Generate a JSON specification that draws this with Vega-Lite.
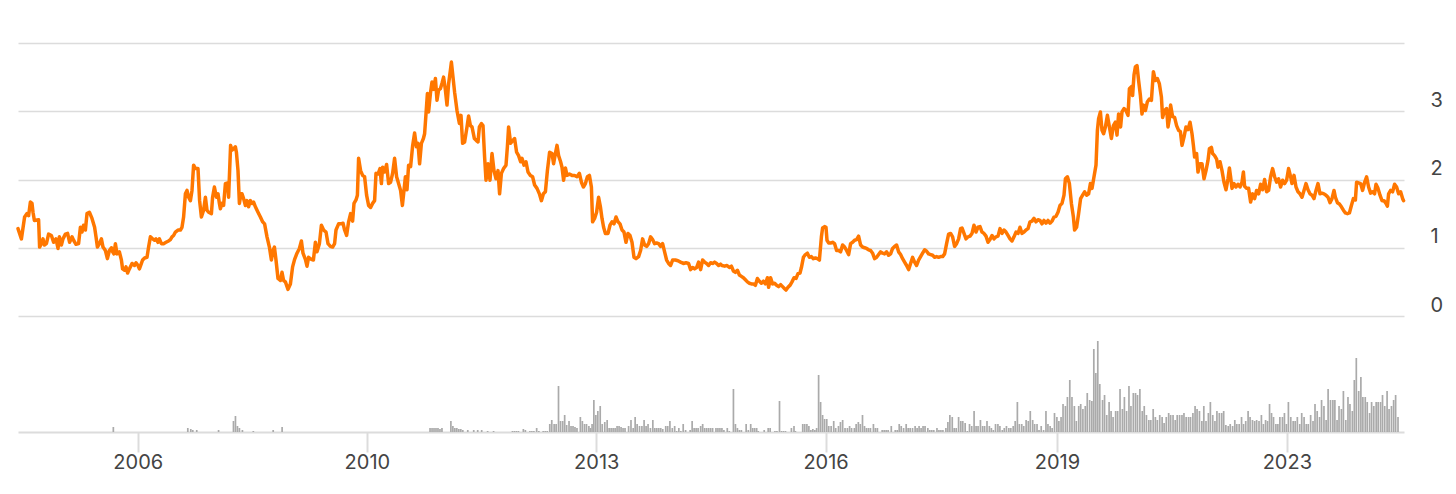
{
"$schema": "https://vega.github.io/schema/vega-lite/v6.json",
"padding": {"left": 16, "top": 43, "right": 0, "bottom": 0},
"config": {"view": {"stroke": null}, "font": "Inter"},
"spacing": 16,
"datasets": {
"price": [
{"n":0,"p":1.28},{"n":1.7,"p":1.13},{"n":3.3,"p":1.45},{"n":4.5,"p":1.5},{"n":5.3,"p":1.47},{"n":6.2,"p":1.67},{"n":7,"p":1.65},{"n":7.5,"p":1.52},{"n":8.2,"p":1.4},{"n":10.3,"p":1.41},{"n":10.8,"p":1.01},{"n":11.7,"p":1.06},{"n":12.5,"p":1.13},{"n":13.2,"p":1.04},{"n":14.2,"p":1.06},{"n":15.3,"p":1.2},{"n":16.7,"p":1.18},{"n":17.8,"p":1.08},{"n":19,"p":1.13},{"n":20,"p":0.99},{"n":20.7,"p":1.16},{"n":21.7,"p":1.04},{"n":22.5,"p":1.13},{"n":23.7,"p":1.2},{"n":24.8,"p":1.21},{"n":25.8,"p":1.08},{"n":27,"p":1.16},{"n":27.8,"p":1.11},{"n":29,"p":1.05},{"n":30.3,"p":1.06},{"n":31.2,"p":1.3},{"n":32,"p":1.23},{"n":32.8,"p":1.33},{"n":33.7,"p":1.26},{"n":34.5,"p":1.5},{"n":35.7,"p":1.52},{"n":37,"p":1.43},{"n":38.3,"p":1.3},{"n":39,"p":1.16},{"n":39.7,"p":1.01},{"n":40.7,"p":1.06},{"n":41.7,"p":1.13},{"n":42.5,"p":1.01},{"n":43.7,"p":0.96},{"n":44.7,"p":0.84},{"n":45.7,"p":0.96},{"n":46.7,"p":1.0},{"n":47.3,"p":0.94},{"n":48,"p":0.91},{"n":48.7,"p":1.06},{"n":49.5,"p":0.91},{"n":50.7,"p":0.94},{"n":51.7,"p":0.82},{"n":52.3,"p":0.69},{"n":53.3,"p":0.67},{"n":54,"p":0.72},{"n":54.8,"p":0.63},{"n":55.7,"p":0.69},{"n":57,"p":0.77},{"n":58.2,"p":0.74},{"n":59,"p":0.78},{"n":60,"p":0.74},{"n":60.7,"p":0.69},{"n":61.7,"p":0.77},{"n":62.3,"p":0.82},{"n":63.3,"p":0.85},{"n":64.5,"p":0.86},{"n":65.3,"p":1.01},{"n":66.2,"p":1.16},{"n":67.3,"p":1.13},{"n":68.3,"p":1.11},{"n":69,"p":1.13},{"n":70,"p":1.08},{"n":70.7,"p":1.13},{"n":71.7,"p":1.06},{"n":72.8,"p":1.06},{"n":74,"p":1.08},{"n":75.3,"p":1.1},{"n":76.2,"p":1.12},{"n":77,"p":1.16},{"n":77.8,"p":1.18},{"n":78.7,"p":1.23},{"n":80,"p":1.26},{"n":81.2,"p":1.26},{"n":82,"p":1.3},{"n":82.8,"p":1.45},{"n":83.7,"p":1.79},{"n":84.5,"p":1.84},{"n":85.3,"p":1.74},{"n":86.2,"p":1.69},{"n":87,"p":1.84},{"n":87.8,"p":2.21},{"n":88.7,"p":2.16},{"n":90,"p":2.16},{"n":90.8,"p":1.69},{"n":91.7,"p":1.45},{"n":92.8,"p":1.55},{"n":93.7,"p":1.74},{"n":94.5,"p":1.55},{"n":95.3,"p":1.52},{"n":96.7,"p":1.5},{"n":97.3,"p":1.74},{"n":98.2,"p":1.89},{"n":99.2,"p":1.74},{"n":100,"p":1.79},{"n":100.7,"p":1.65},{"n":101.2,"p":1.57},{"n":102,"p":1.65},{"n":102.8,"p":1.62},{"n":103.7,"p":1.94},{"n":104.8,"p":1.95},{"n":105.3,"p":1.74},{"n":106.3,"p":2.5},{"n":107,"p":2.43},{"n":107.8,"p":2.45},{"n":108.7,"p":2.48},{"n":109.2,"p":2.4},{"n":110,"p":2.13},{"n":110.7,"p":1.65},{"n":111.5,"p":1.79},
{"n":112,"p":1.79},{"n":112.8,"p":1.72},{"n":113.7,"p":1.62},{"n":114.5,"p":1.69},{"n":115.3,"p":1.6},{"n":116.2,"p":1.69},{"n":117,"p":1.65},{"n":117.8,"p":1.67},{"n":118.7,"p":1.6},{"n":120,"p":1.52},{"n":121.2,"p":1.45},{"n":122.3,"p":1.38},{"n":123.3,"p":1.35},{"n":124.5,"p":1.16},{"n":125.7,"p":1.01},{"n":126.7,"p":0.82},{"n":127.5,"p":0.96},{"n":128.2,"p":1.01},{"n":129,"p":0.82},{"n":130,"p":0.55},{"n":131.2,"p":0.52},{"n":132,"p":0.64},{"n":132.8,"p":0.52},{"n":133.7,"p":0.5},{"n":135,"p":0.39},{"n":136.2,"p":0.47},{"n":137.3,"p":0.72},{"n":138.3,"p":0.83},{"n":139.5,"p":0.92},{"n":140.7,"p":0.99},{"n":141.7,"p":1.1},{"n":142.5,"p":0.92},{"n":143.7,"p":0.83},{"n":144.5,"p":0.73},{"n":145.3,"p":0.86},{"n":146.7,"p":0.83},{"n":147.7,"p":0.82},{"n":148.7,"p":1.08},{"n":149.5,"p":0.94},{"n":150.7,"p":1.06},{"n":151.7,"p":1.33},{"n":152.8,"p":1.26},{"n":154,"p":1.23},{"n":155,"p":1.06},{"n":156.2,"p":1.02},{"n":157.3,"p":1.01},{"n":158.3,"p":1.06},{"n":159,"p":1.26},{"n":160.3,"p":1.35},{"n":161.5,"p":1.35},{"n":162.5,"p":1.36},{"n":163.3,"p":1.26},{"n":164.3,"p":1.18},{"n":165.3,"p":1.38},{"n":166.3,"p":1.5},{"n":167.3,"p":1.39},{"n":168,"p":1.65},{"n":169,"p":1.7},{"n":169.7,"p":1.77},{"n":170.3,"p":2.31},{"n":171.3,"p":2.13},{"n":172.3,"p":2.06},{"n":173.3,"p":2.04},{"n":174.3,"p":1.77},{"n":175.3,"p":1.62},{"n":176.3,"p":1.59},{"n":177.3,"p":1.65},{"n":178.3,"p":1.69},{"n":179,"p":2.09},{"n":180,"p":2.08},{"n":181,"p":2.16},{"n":181.7,"p":1.94},{"n":182.3,"p":2.18},{"n":183.3,"p":2.11},{"n":184.3,"p":2.22},{"n":185.3,"p":1.94},{"n":186.3,"p":1.96},{"n":187.3,"p":2.09},{"n":188.3,"p":2.31},{"n":189.3,"p":2.04},{"n":190.3,"p":1.94},{"n":191.3,"p":1.84},{"n":192.2,"p":1.62},{"n":193,"p":1.84},{"n":193.7,"p":2.04},{"n":194.5,"p":1.85},{"n":195.3,"p":2.21},{"n":196.3,"p":2.19},{"n":197.3,"p":2.49},{"n":198.3,"p":2.68},{"n":199.2,"p":2.48},{"n":200,"p":2.53},{"n":200.8,"p":2.23},{"n":201.7,"p":2.53},{"n":202.7,"p":2.6},{"n":203.3,"p":2.67},{"n":204,"p":2.96},{"n":204.7,"p":3.26},{"n":205.3,"p":2.99},{"n":206.2,"p":3.26},{"n":207,"p":3.43},{"n":207.8,"p":3.32},{"n":208.7,"p":3.48},{"n":209.5,"p":3.16},{"n":210.3,"p":3.31},{"n":211.2,"p":3.33},{"n":212,"p":3.41},{"n":212.8,"p":3.5},{"n":213.7,"p":3.31},{"n":214.5,"p":3.09},{"n":215.3,"p":3.4},{"n":216.2,"p":3.6},{"n":216.7,"p":3.72},{"n":217.5,"p":3.5},{"n":218.3,"p":3.28},{"n":219.5,"p":3.01},{"n":220.7,"p":2.82},{"n":221.5,"p":2.94},{"n":222.3,"p":2.53},{"n":223.3,"p":2.55},{"n":224.5,"p":2.77},{"n":225.3,"p":2.93},{"n":226.2,"p":2.79},{"n":227,"p":2.77},{"n":228.2,"p":2.6},{"n":229.2,"p":2.57},{"n":230,"p":2.55},{"n":230.7,"p":2.77},{"n":231.7,"p":2.82},
{"n":232.5,"p":2.79},{"n":233.3,"p":2.33},{"n":234,"p":1.99},{"n":235,"p":2.23},{"n":236,"p":1.99},{"n":237,"p":2.38},{"n":238,"p":2.13},{"n":239,"p":2.01},{"n":240,"p":2.13},{"n":240.8,"p":1.79},{"n":241.7,"p":2.09},{"n":242.8,"p":2.16},{"n":244,"p":2.21},{"n":244.7,"p":2.48},{"n":245.3,"p":2.77},{"n":246.3,"p":2.53},{"n":247.3,"p":2.57},{"n":248.3,"p":2.6},{"n":249.3,"p":2.4},{"n":250.3,"p":2.35},{"n":251.3,"p":2.26},{"n":252,"p":2.31},{"n":253,"p":2.21},{"n":254,"p":2.26},{"n":255,"p":2.11},{"n":256.2,"p":2.06},{"n":257.3,"p":2.04},{"n":258.3,"p":1.92},{"n":259.5,"p":1.87},{"n":260.7,"p":1.79},{"n":261.7,"p":1.69},{"n":262.7,"p":1.79},{"n":263.7,"p":1.82},{"n":264.7,"p":2.13},{"n":265.8,"p":2.4},{"n":267,"p":2.38},{"n":267.8,"p":2.23},{"n":268.7,"p":2.38},{"n":269.5,"p":2.5},{"n":270.3,"p":2.35},{"n":271.3,"p":2.26},{"n":272,"p":2.18},{"n":272.8,"p":1.99},{"n":273.7,"p":2.17},{"n":274.5,"p":2.06},{"n":275.7,"p":2.08},{"n":277,"p":2.06},{"n":278.3,"p":2.06},{"n":279.5,"p":2.04},{"n":280.7,"p":2.09},{"n":281.7,"p":1.96},{"n":282.7,"p":1.89},{"n":283.7,"p":1.94},{"n":284.7,"p":2.04},{"n":285.7,"p":2.06},{"n":286.7,"p":1.89},{"n":287.3,"p":1.38},{"n":288.3,"p":1.43},{"n":289.3,"p":1.52},{"n":290.3,"p":1.74},{"n":291.2,"p":1.6},{"n":292,"p":1.43},{"n":292.8,"p":1.3},{"n":293.7,"p":1.21},{"n":295,"p":1.21},{"n":296,"p":1.33},{"n":297,"p":1.38},{"n":298,"p":1.35},{"n":299,"p":1.45},{"n":300,"p":1.38},{"n":301,"p":1.35},{"n":302,"p":1.26},{"n":303,"p":1.23},{"n":304,"p":1.08},{"n":305,"p":1.21},{"n":306,"p":1.18},{"n":307,"p":1.08},{"n":308,"p":0.86},{"n":309,"p":0.84},{"n":310.3,"p":0.87},{"n":311.3,"p":0.96},{"n":312.3,"p":1.13},{"n":313.3,"p":1.04},{"n":314.3,"p":1.02},{"n":315.3,"p":1.06},{"n":316.3,"p":1.16},{"n":317.3,"p":1.12},{"n":318.3,"p":1.06},{"n":319.3,"p":1.07},{"n":320.3,"p":1.06},{"n":321.3,"p":1.02},{"n":322.3,"p":1.06},{"n":323.3,"p":0.94},{"n":324.3,"p":0.82},{"n":325.3,"p":0.77},{"n":326.3,"p":0.74},{"n":327.3,"p":0.82},{"n":328.7,"p":0.82},{"n":330,"p":0.81},{"n":331.3,"p":0.79},{"n":332.7,"p":0.77},{"n":334,"p":0.78},{"n":335.3,"p":0.77},{"n":336.3,"p":0.68},{"n":337.3,"p":0.71},{"n":338.3,"p":0.69},{"n":339.3,"p":0.71},{"n":340.3,"p":0.79},{"n":341.3,"p":0.68},{"n":342.3,"p":0.82},{"n":343.3,"p":0.79},{"n":344.3,"p":0.77},{"n":345.3,"p":0.74},{"n":346.3,"p":0.78},{"n":347.3,"p":0.77},{"n":348.3,"p":0.79},{"n":349.3,"p":0.77},{"n":350.3,"p":0.74},{"n":351.3,"p":0.76},
{"n":352,"p":0.74},{"n":353.3,"p":0.73},{"n":354.5,"p":0.74},{"n":355.7,"p":0.71},{"n":356.7,"p":0.73},{"n":357.7,"p":0.66},{"n":358.7,"p":0.64},{"n":359.7,"p":0.67},{"n":360.7,"p":0.6},{"n":361.7,"p":0.58},{"n":362.7,"p":0.56},{"n":363.7,"p":0.53},{"n":364.7,"p":0.5},{"n":365.7,"p":0.48},{"n":366.7,"p":0.47},{"n":367.7,"p":0.47},{"n":368.7,"p":0.45},{"n":369.7,"p":0.55},{"n":370.7,"p":0.51},{"n":371.7,"p":0.48},{"n":372.7,"p":0.51},{"n":373.7,"p":0.47},{"n":374.7,"p":0.56},{"n":375.3,"p":0.42},{"n":376.3,"p":0.56},{"n":377.3,"p":0.47},{"n":378.3,"p":0.48},{"n":379.3,"p":0.45},{"n":380.3,"p":0.43},{"n":381.3,"p":0.46},{"n":382.3,"p":0.43},{"n":383.3,"p":0.4},{"n":384,"p":0.38},{"n":385,"p":0.42},{"n":386,"p":0.45},{"n":387,"p":0.5},{"n":388,"p":0.56},{"n":389,"p":0.55},{"n":390,"p":0.62},{"n":391,"p":0.63},{"n":391.7,"p":0.71},{"n":392.7,"p":0.86},{"n":393.7,"p":0.9},{"n":394.7,"p":0.92},{"n":395.7,"p":0.86},{"n":396.7,"p":0.87},{"n":397.7,"p":0.84},{"n":398.7,"p":0.85},{"n":399.7,"p":0.84},{"n":400.7,"p":0.82},{"n":401.7,"p":1.16},{"n":402.3,"p":1.29},{"n":403.3,"p":1.31},{"n":404,"p":1.3},{"n":404.5,"p":1.11},{"n":405.3,"p":1.07},{"n":406.3,"p":1.07},{"n":407.3,"p":1.08},{"n":408.3,"p":1.06},{"n":409.3,"p":0.96},{"n":410.3,"p":0.96},{"n":411.3,"p":0.94},{"n":412.3,"p":1.04},{"n":413.3,"p":1.01},{"n":414.3,"p":0.96},{"n":415.3,"p":0.9},{"n":416.3,"p":1.06},{"n":417.3,"p":1.08},{"n":418.3,"p":1.11},{"n":419.3,"p":1.12},{"n":420.3,"p":1.17},{"n":421.3,"p":1.04},{"n":422.3,"p":1.01},{"n":423.3,"p":1.0},{"n":424.3,"p":0.99},{"n":425.3,"p":0.97},{"n":426.3,"p":0.96},{"n":427.3,"p":0.92},{"n":428.3,"p":0.84},{"n":429.3,"p":0.86},{"n":430.3,"p":0.9},{"n":431.3,"p":0.94},{"n":432.3,"p":0.92},{"n":433.3,"p":0.91},{"n":434.3,"p":0.94},{"n":435.3,"p":0.89},{"n":436.3,"p":0.91},{"n":437.3,"p":0.99},{"n":438.3,"p":1.02},{"n":439.3,"p":1.04},{"n":440.3,"p":0.94},{"n":441.3,"p":0.9},{"n":442.3,"p":0.84},{"n":443.3,"p":0.79},{"n":444.3,"p":0.74},{"n":445.3,"p":0.68},{"n":446.3,"p":0.77},{"n":447.3,"p":0.86},{"n":448.3,"p":0.79},{"n":449.3,"p":0.74},{"n":450.3,"p":0.82},{"n":451.3,"p":0.87},{"n":452.3,"p":0.92},{"n":453.3,"p":0.97},{"n":454.3,"p":0.95},{"n":455.3,"p":0.91},{"n":456.3,"p":0.9},{"n":457.3,"p":0.89},{"n":458.3,"p":0.86},{"n":459.3,"p":0.87},{"n":460.3,"p":0.86},{"n":461.3,"p":0.87},{"n":462.3,"p":0.87},{"n":463.3,"p":0.91},{"n":464.3,"p":1.06},{"n":465.3,"p":1.2},{"n":466.3,"p":1.21},{"n":467.3,"p":1.16},{"n":468.3,"p":1.02},{"n":469.3,"p":1.06},{"n":470.3,"p":1.13},{"n":471.3,"p":1.28},
{"n":472,"p":1.29},{"n":473,"p":1.21},{"n":474,"p":1.13},{"n":475,"p":1.16},{"n":476,"p":1.17},{"n":477,"p":1.21},{"n":478,"p":1.33},{"n":479,"p":1.23},{"n":480,"p":1.3},{"n":481,"p":1.31},{"n":482,"p":1.23},{"n":483,"p":1.21},{"n":484,"p":1.17},{"n":485,"p":1.08},{"n":486,"p":1.12},{"n":487,"p":1.18},{"n":488,"p":1.13},{"n":489,"p":1.16},{"n":490,"p":1.17},{"n":491,"p":1.28},{"n":492,"p":1.21},{"n":493,"p":1.26},{"n":494,"p":1.23},{"n":495,"p":1.18},{"n":496,"p":1.13},{"n":497,"p":1.1},{"n":498,"p":1.16},{"n":499,"p":1.23},{"n":500,"p":1.21},{"n":501,"p":1.3},{"n":502,"p":1.21},{"n":503,"p":1.23},{"n":504,"p":1.26},{"n":505,"p":1.28},{"n":506,"p":1.38},{"n":507,"p":1.39},{"n":508,"p":1.43},{"n":509,"p":1.38},{"n":510,"p":1.41},{"n":511,"p":1.4},{"n":512,"p":1.35},{"n":513,"p":1.4},{"n":514,"p":1.36},{"n":515,"p":1.4},{"n":516,"p":1.36},{"n":517,"p":1.39},{"n":518,"p":1.45},{"n":519,"p":1.46},{"n":520,"p":1.52},{"n":521,"p":1.62},{"n":522,"p":1.65},{"n":523,"p":1.77},{"n":523.7,"p":2.01},{"n":524.7,"p":2.04},{"n":525.7,"p":1.94},{"n":526.7,"p":1.65},{"n":527.7,"p":1.45},{"n":528.3,"p":1.26},{"n":529.3,"p":1.3},{"n":530.3,"p":1.5},{"n":531.3,"p":1.72},{"n":532.3,"p":1.77},{"n":533.3,"p":1.82},{"n":534.3,"p":1.77},{"n":535.3,"p":1.79},{"n":536.2,"p":1.94},{"n":537,"p":1.87},{"n":538,"p":2.04},{"n":539,"p":2.21},{"n":539.7,"p":2.72},{"n":540.3,"p":2.89},{"n":541.2,"p":2.99},{"n":542,"p":2.72},{"n":542.8,"p":2.67},{"n":543.7,"p":2.77},{"n":544.7,"p":2.94},{"n":545.7,"p":2.77},{"n":546.7,"p":2.6},{"n":547.7,"p":2.79},{"n":548.7,"p":2.84},{"n":549.5,"p":2.65},{"n":550.3,"p":2.96},{"n":551.3,"p":2.77},{"n":552,"p":2.99},{"n":553,"p":3.04},{"n":554,"p":3.01},{"n":555,"p":2.94},{"n":555.7,"p":3.33},{"n":556.7,"p":3.36},{"n":557.3,"p":3.23},{"n":558,"p":3.53},{"n":558.7,"p":3.65},{"n":559.5,"p":3.67},{"n":560.3,"p":3.45},{"n":561.2,"p":3.23},{"n":562,"p":2.96},{"n":562.8,"p":3.09},{"n":563.7,"p":3.01},{"n":564.7,"p":3.14},{"n":565.7,"p":3.18},{"n":566.7,"p":3.16},{"n":567.7,"p":3.58},{"n":568.7,"p":3.45},{"n":569.7,"p":3.48},{"n":570.7,"p":3.4},{"n":571.7,"p":3.21},{"n":572.3,"p":2.91},{"n":573.3,"p":3.01},{"n":574.3,"p":3.04},{"n":575,"p":2.77},{"n":575.7,"p":2.89},{"n":576.3,"p":3.09},{"n":577.3,"p":2.92},{"n":578.3,"p":2.91},{"n":579.3,"p":2.79},{"n":580.3,"p":2.72},{"n":581.2,"p":2.7},{"n":582,"p":2.5},{"n":583,"p":2.62},{"n":584,"p":2.77},{"n":585,"p":2.73},{"n":586,"p":2.84},{"n":587,"p":2.67},{"n":587.7,"p":2.5},{"n":588.3,"p":2.33},{"n":589.3,"p":2.38},{"n":590,"p":2.11},{"n":591,"p":2.23},
{"n":592,"p":2.23},{"n":593,"p":2.01},{"n":594,"p":2.13},{"n":595,"p":2.28},{"n":595.7,"p":2.45},{"n":596.7,"p":2.47},{"n":597.3,"p":2.38},{"n":598.3,"p":2.35},{"n":599.3,"p":2.3},{"n":600,"p":2.18},{"n":601,"p":2.26},{"n":602,"p":2.13},{"n":603,"p":1.96},{"n":604,"p":1.85},{"n":605,"p":2.01},{"n":605.7,"p":2.17},{"n":606.3,"p":2.04},{"n":607,"p":1.87},{"n":608,"p":1.94},{"n":609,"p":1.89},{"n":610,"p":1.93},{"n":611,"p":1.89},{"n":612,"p":1.96},{"n":612.7,"p":2.11},{"n":613.3,"p":1.9},{"n":614.3,"p":1.87},{"n":615.3,"p":1.87},{"n":616.3,"p":1.67},{"n":617.3,"p":1.79},{"n":618.3,"p":1.72},{"n":619.3,"p":1.84},{"n":620.3,"p":1.79},{"n":621.3,"p":1.93},{"n":622.3,"p":1.85},{"n":623.3,"p":2.0},{"n":624.3,"p":1.82},{"n":625.3,"p":1.84},{"n":626.3,"p":2.04},{"n":627.3,"p":2.16},{"n":628.3,"p":2.04},{"n":629.3,"p":1.96},{"n":630.3,"p":2.01},{"n":631.3,"p":1.89},{"n":632.3,"p":1.99},{"n":633.3,"p":1.94},{"n":634.3,"p":1.99},{"n":635.3,"p":2.16},{"n":636.3,"p":2.04},{"n":637,"p":1.94},{"n":638,"p":2.06},{"n":639,"p":1.89},{"n":640,"p":1.82},{"n":641,"p":1.79},{"n":642,"p":1.74},{"n":643,"p":1.84},{"n":644,"p":1.94},{"n":645,"p":1.85},{"n":646,"p":1.79},{"n":647,"p":1.77},{"n":648,"p":1.72},{"n":649,"p":1.84},{"n":650,"p":1.94},{"n":651,"p":1.79},{"n":652,"p":1.8},{"n":653,"p":1.79},{"n":654,"p":1.77},{"n":655,"p":1.74},{"n":656,"p":1.66},{"n":657,"p":1.72},{"n":658,"p":1.84},{"n":658.7,"p":1.74},{"n":659.7,"p":1.66},{"n":660.7,"p":1.64},{"n":661.7,"p":1.6},{"n":662.7,"p":1.55},{"n":663.7,"p":1.51},{"n":664.7,"p":1.5},{"n":665.7,"p":1.51},{"n":666.7,"p":1.62},{"n":667.7,"p":1.72},{"n":668.7,"p":1.7},{"n":669.3,"p":1.96},{"n":670.3,"p":1.95},{"n":671.3,"p":1.94},{"n":672.3,"p":1.84},{"n":673.3,"p":1.96},{"n":674.3,"p":2.04},{"n":675.3,"p":1.89},{"n":676.3,"p":1.8},{"n":677.3,"p":1.82},{"n":678.3,"p":1.79},{"n":679,"p":1.93},{"n":680,"p":1.87},{"n":681,"p":1.77},{"n":682,"p":1.69},{"n":683,"p":1.69},{"n":684,"p":1.65},{"n":684.7,"p":1.61},{"n":685.3,"p":1.79},{"n":686.3,"p":1.84},{"n":687.3,"p":1.82},{"n":688.3,"p":1.93},{"n":689.3,"p":1.89},{"n":690.3,"p":1.79},{"n":691.3,"p":1.82},{"n":692.3,"p":1.72},{"n":692.8,"p":1.69}
],
"vol": [
{"n":45.5,"v":5},{"n":83,"v":4},{"n":84.5,"v":3},{"n":85.5,"v":2},{"n":87.5,"v":2},{"n":98.5,"v":2},{"n":106,"v":11},{"n":107,"v":16},{"n":108,"v":6},{"n":109,"v":4},{"n":110.5,"v":2},{"n":116,"v":1},{"n":126,"v":2},{"n":130.5,"v":5},{"n":205,"v":4},{"n":206,"v":4},{"n":207,"v":4},{"n":208,"v":4},{"n":209,"v":4},{"n":210,"v":3},{"n":211,"v":4},{"n":215.5,"v":11},{"n":216.5,"v":6},{"n":217.5,"v":4},{"n":218.5,"v":4},{"n":219.5,"v":3},{"n":220.5,"v":3},{"n":221.5,"v":2},{"n":224,"v":2},{"n":227,"v":2},{"n":229,"v":2},{"n":231,"v":2},{"n":234,"v":1},{"n":237,"v":1},
{"n":246.5,"v":1},{"n":247.5,"v":1},{"n":248.5,"v":1},{"n":249.5,"v":1},{"n":252,"v":3},{"n":253,"v":2},{"n":255.3,"v":1},{"n":256.3,"v":1},{"n":257.3,"v":1},{"n":258.7,"v":4},{"n":259.8,"v":1},{"n":262,"v":1},{"n":263,"v":1},{"n":264,"v":1},{"n":265.3,"v":8},{"n":266.3,"v":12},{"n":267.5,"v":8},{"n":268.5,"v":8},{"n":269.7,"v":46},{"n":270.7,"v":11},{"n":271.8,"v":11},{"n":272.8,"v":17},{"n":273.8,"v":7},{"n":275,"v":11},{"n":276,"v":6},{"n":277,"v":6},{"n":278,"v":5},{"n":279,"v":4},{"n":280.7,"v":15},{"n":281.7,"v":11},{"n":282.8,"v":8},{"n":283.8,"v":8},{"n":285,"v":6},{"n":285.8,"v":4},{"n":286.6,"v":8},{"n":287.5,"v":32},{"n":288.5,"v":17},{"n":289.5,"v":21},{"n":290.7,"v":26},{"n":291.7,"v":8},{"n":293,"v":10},{"n":294.2,"v":12},{"n":295.2,"v":4},{"n":296.2,"v":4},{"n":297.2,"v":4},{"n":298.2,"v":4},{"n":299.2,"v":6},{"n":300.2,"v":6},{"n":301.2,"v":5},{"n":302.2,"v":4},{"n":303.2,"v":4},{"n":305,"v":6},{"n":306.2,"v":12},{"n":307.3,"v":4},{"n":308.3,"v":15},{"n":309.3,"v":8},{"n":310.5,"v":6},{"n":311.7,"v":6},{"n":312.8,"v":12},{"n":313.8,"v":6},{"n":314.8,"v":8},{"n":316,"v":4},{"n":317.2,"v":12},{"n":318.2,"v":4},{"n":319.2,"v":4},{"n":320.2,"v":4},{"n":321.2,"v":4},{"n":322.2,"v":3},{"n":323.7,"v":6},{"n":324.7,"v":6},{"n":325.8,"v":11},{"n":327,"v":4},{"n":328.2,"v":6},{"n":329.2,"v":1},{"n":330.3,"v":4},{"n":331.3,"v":1},{"n":332.5,"v":8},{"n":333.7,"v":2},{"n":336,"v":2},{"n":337,"v":11},{"n":338,"v":4},{"n":339,"v":4},{"n":340,"v":4},{"n":341.3,"v":6},{"n":342.3,"v":8},{"n":343.3,"v":4},{"n":344.3,"v":4},{"n":345.3,"v":4},{"n":346.3,"v":4},{"n":347.3,"v":4},{"n":349,"v":4},{"n":350,"v":4},{"n":351,"v":4},{"n":352,"v":4},{"n":353,"v":2},{"n":354.7,"v":4},{"n":355.7,"v":1},{"n":357.8,"v":43},{"n":358.8,"v":8},{"n":359.8,"v":4},{"n":360.8,"v":2},{"n":361.8,"v":2},{"n":364.2,"v":8},{"n":365.3,"v":2},{"n":366.5,"v":8},{"n":367.5,"v":4},{"n":368.5,"v":4},{"n":369.5,"v":4},{"n":370.3,"v":1},{"n":373.3,"v":2},{"n":375.3,"v":4},{"n":376.3,"v":4},{"n":378.7,"v":1},{"n":379.7,"v":1},{"n":381,"v":31},{"n":382,"v":1},{"n":383,"v":1},{"n":384,"v":1},{"n":387,"v":4},{"n":388.3,"v":6},
{"n":389,"v":1},{"n":392.7,"v":8},{"n":393.7,"v":8},{"n":394.8,"v":8},{"n":395.8,"v":6},{"n":396.8,"v":2},{"n":397.8,"v":3},{"n":398.8,"v":2},{"n":399.7,"v":4},{"n":400.7,"v":57},{"n":401.7,"v":30},{"n":402.7,"v":17},{"n":403.7,"v":13},{"n":404.8,"v":13},{"n":405.8,"v":6},{"n":407,"v":6},{"n":408.3,"v":11},{"n":409.3,"v":4},{"n":410.7,"v":6},{"n":411.7,"v":10},{"n":412.8,"v":12},{"n":414,"v":4},{"n":415.2,"v":4},{"n":416.3,"v":6},{"n":417.3,"v":4},{"n":418.7,"v":4},{"n":419.6,"v":8},{"n":420.7,"v":10},{"n":421.7,"v":8},{"n":422.8,"v":17},{"n":423.8,"v":6},{"n":424.8,"v":4},{"n":425.8,"v":4},{"n":426.8,"v":4},{"n":428.3,"v":8},{"n":429.3,"v":4},{"n":430.3,"v":4},{"n":432.7,"v":2},{"n":433.7,"v":2},{"n":434.7,"v":2},{"n":435.7,"v":2},{"n":437.3,"v":6},{"n":439.3,"v":2},{"n":440.3,"v":2},{"n":441.3,"v":8},{"n":442.3,"v":6},{"n":443.5,"v":4},{"n":444.8,"v":8},{"n":445.8,"v":4},{"n":446.8,"v":4},{"n":448,"v":4},{"n":449.3,"v":6},{"n":450.3,"v":4},{"n":451.3,"v":6},{"n":452.3,"v":4},{"n":453.3,"v":6},{"n":454.3,"v":6},{"n":455.7,"v":4},{"n":456.7,"v":2},{"n":457.7,"v":2},{"n":458.7,"v":2},{"n":460.3,"v":4},{"n":461.3,"v":2},{"n":462.3,"v":2},{"n":463.3,"v":2},{"n":464.8,"v":4},{"n":465.8,"v":10},{"n":466.8,"v":17},{"n":468,"v":15},{"n":469,"v":4},{"n":470,"v":4},{"n":471.2,"v":15},{"n":472.3,"v":11},{"n":473.3,"v":11},{"n":474.5,"v":9},{"n":475.6,"v":1},{"n":476.7,"v":8},{"n":477.8,"v":6},{"n":479,"v":21},{"n":480,"v":6},{"n":481,"v":6},{"n":482.2,"v":12},{"n":483.3,"v":6},{"n":484.3,"v":6},{"n":485.5,"v":11},{"n":486.7,"v":6},{"n":487.7,"v":4},{"n":488.7,"v":2},{"n":489.8,"v":8},{"n":491,"v":8},{"n":492,"v":6},{"n":493.2,"v":2},{"n":494.2,"v":4},{"n":495.3,"v":6},{"n":496.5,"v":4},{"n":497.5,"v":4},{"n":498.7,"v":6},{"n":499.7,"v":11},{"n":500.8,"v":30},{"n":501.8,"v":8},{"n":503,"v":8},{"n":504,"v":6},{"n":505.2,"v":12},{"n":506.3,"v":11},{"n":507.3,"v":21},{"n":508.5,"v":12},{"n":509.5,"v":8},{"n":510.7,"v":8},{"n":511.7,"v":2},{"n":512.8,"v":6},{"n":514,"v":2},{"n":515.2,"v":21},{"n":516.2,"v":8},{"n":517.3,"v":6},{"n":518.3,"v":4},{"n":519.5,"v":19},{"n":520.7,"v":15},{"n":521.7,"v":11},{"n":522.8,"v":15},{"n":523.8,"v":28},{"n":525,"v":26},{"n":526,"v":35},{"n":527.2,"v":52},{"n":528.3,"v":35},{"n":529.5,"v":26},{"n":530.5,"v":11},{"n":531.7,"v":26},{"n":532.7,"v":28},{"n":533.8,"v":23},{"n":535,"v":26},{"n":536,"v":39},{"n":537.2,"v":32},{"n":538.3,"v":31},{"n":539.3,"v":83},{"n":540.3,"v":59},
{"n":541.3,"v":91},{"n":542.3,"v":48},{"n":543.7,"v":32},{"n":544.7,"v":37},{"n":545.8,"v":17},{"n":547,"v":30},{"n":548,"v":21},{"n":549,"v":15},{"n":550.3,"v":21},{"n":551.3,"v":21},{"n":552.5,"v":43},{"n":553.7,"v":23},{"n":554.7,"v":35},{"n":555.8,"v":21},{"n":557,"v":46},{"n":558,"v":26},{"n":559.2,"v":39},{"n":560.3,"v":39},{"n":561.3,"v":37},{"n":562.5,"v":43},{"n":563.7,"v":21},{"n":564.7,"v":26},{"n":565.8,"v":17},{"n":567,"v":12},{"n":568,"v":12},{"n":569.2,"v":23},{"n":570.3,"v":15},{"n":571.3,"v":12},{"n":572.5,"v":17},{"n":573.7,"v":15},{"n":574.7,"v":9},{"n":575.8,"v":15},{"n":577,"v":19},{"n":578,"v":17},{"n":579.2,"v":17},{"n":580.3,"v":12},{"n":581.3,"v":17},{"n":582.5,"v":17},{"n":583.7,"v":17},{"n":584.7,"v":19},{"n":585.8,"v":15},{"n":587,"v":15},{"n":588,"v":15},{"n":589.2,"v":19},{"n":590.3,"v":26},{"n":591.3,"v":23},{"n":592.5,"v":21},{"n":593.7,"v":11},{"n":594.7,"v":26},{"n":595.8,"v":11},{"n":597,"v":19},{"n":598,"v":30},{"n":599.2,"v":17},{"n":600.3,"v":11},{"n":601.3,"v":21},{"n":602.5,"v":19},{"n":603.7,"v":19},{"n":604.7,"v":21},{"n":605.8,"v":7},{"n":607,"v":6},{"n":608,"v":8},{"n":609.2,"v":6},{"n":610.3,"v":12},{"n":611.3,"v":8},{"n":612.5,"v":8},{"n":613.7,"v":15},{"n":614.7,"v":8},{"n":615.8,"v":11},{"n":617,"v":21},{"n":618,"v":15},{"n":619.2,"v":12},{"n":620.3,"v":11},{"n":621.3,"v":12},{"n":622.5,"v":11},{"n":623.7,"v":17},{"n":624.7,"v":8},{"n":625.8,"v":12},{"n":626.8,"v":11},{"n":627.8,"v":28},{"n":628.8,"v":19},{"n":629.8,"v":15},{"n":631,"v":8},{"n":632,"v":8},{"n":633,"v":15},{"n":634.3,"v":15},{"n":635.3,"v":19},{"n":636.3,"v":8},{"n":637.3,"v":30},{"n":638.5,"v":15},{"n":639.7,"v":11},{"n":640.7,"v":11},{"n":641.8,"v":15},{"n":643,"v":8},{"n":644,"v":19},{"n":645.2,"v":15},{"n":646.3,"v":8},{"n":647.3,"v":8},{"n":648.5,"v":17},{"n":649.7,"v":11},{"n":650.7,"v":28},{"n":651.8,"v":21},{"n":653,"v":15},{"n":654,"v":32},{"n":655.2,"v":26},{"n":656.3,"v":12},{"n":657.3,"v":43},{"n":658.5,"v":32},{"n":659.7,"v":32},{"n":660.7,"v":32},{"n":661.8,"v":12},{"n":662.8,"v":26},{"n":664,"v":23},{"n":665,"v":41},{"n":666.2,"v":12},{"n":667.3,"v":35},{"n":668.3,"v":28},{"n":669.5,"v":21},{"n":670.5,"v":52},{"n":671.5,"v":74},{"n":672.7,"v":41},{"n":673.8,"v":55},{"n":674.8,"v":35},{"n":676,"v":35},{"n":677,"v":30},{"n":678.2,"v":19},{"n":679.2,"v":30},{"n":680.3,"v":26},{"n":681.5,"v":30},{"n":682.5,"v":30},{"n":683.7,"v":30},{"n":684.7,"v":37},{"n":685.8,"v":26},{"n":687,"v":41},{"n":688,"v":23},{"n":689.2,"v":26},{"n":690.3,"v":32},{"n":691.3,"v":37},{"n":692.5,"v":15}
]
},
"vconcat": [
{
"width": 1386, "height": 273,
"data": {"name": "price"},
"mark": {"type": "line", "color": "#ff7700", "strokeWidth": 3.5, "strokeJoin": "round", "strokeCap": "round"},
"encoding": {
"x": {"field": "n", "type": "quantitative", "scale": {"domain": [0, 693], "nice": false, "zero": false}, "axis": null},
"y": {"field": "p", "type": "quantitative", "scale": {"domain": [0, 4], "nice": false},
"axis": {"orient": "right", "values": [0, 1, 2, 3, 4], "title": null, "domain": false, "ticks": false, "grid": true, "gridColor": "#dcdcdc", "gridWidth": 1.5, "labelPadding": 26, "labelAlign": "left", "labelBaseline": "alphabetic", "labelOffset": -5, "labelFontSize": 20, "labelColor": "#444444", "labelExpr": "datum.value == 4 ? '' : datum.label"}}
}
},
{
"width": 1386, "height": 100,
"data": {"name": "vol"},
"mark": {"type": "bar", "color": "#aaaaaa", "size": 1.7},
"encoding": {
"x": {"field": "n", "type": "quantitative", "scale": {"domain": [0, 693], "nice": false, "zero": false},
"axis": {"values": [57.8, 173.2, 288.7, 404.2, 520.7, 636.5], "title": null, "grid": false, "labelExpr": "datum.value < 100 ? '2006' : datum.value < 200 ? '2010' : datum.value < 300 ? '2013' : datum.value < 450 ? '2016' : datum.value < 600 ? '2019' : '2023'", "domainColor": "#dcdcdc", "domainWidth": 2, "tickColor": "#dcdcdc", "tickWidth": 2, "tickSize": 20, "labelFontSize": 20, "labelColor": "#444444", "labelPadding": 0, "labelFlush": false}},
"y": {"field": "v", "type": "quantitative", "scale": {"domain": [0, 100]}, "axis": null}
}
}
]
}
